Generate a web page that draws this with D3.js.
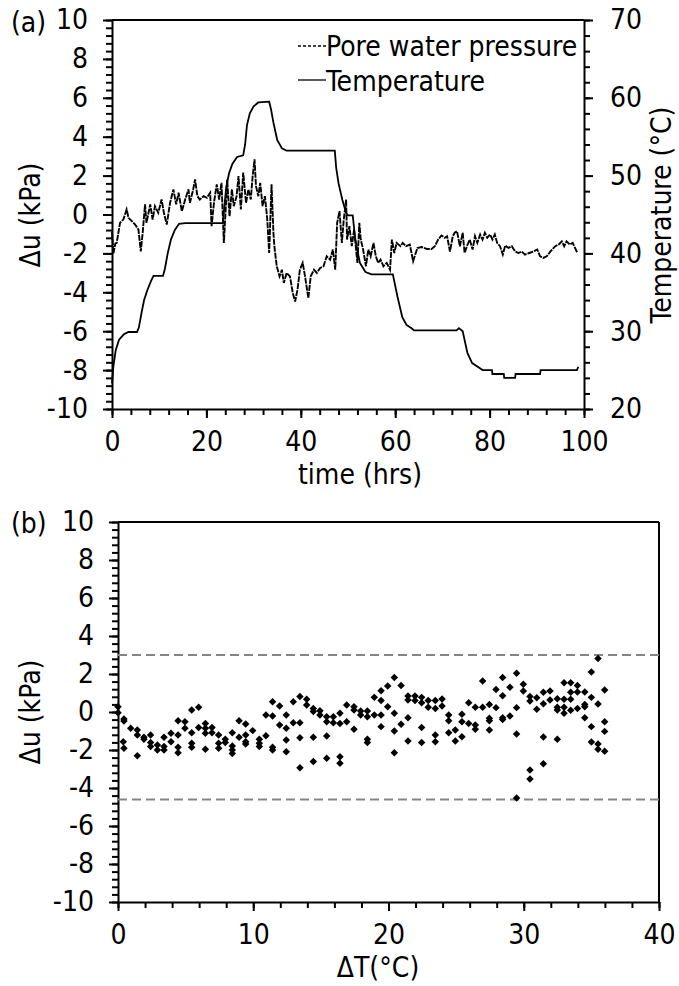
<!DOCTYPE html>
<html>
<head>
<meta charset="utf-8">
<script src="https://cdn.jsdelivr.net/npm/d3@7/dist/d3.min.js"></script>
<style>
  body { margin: 0; background: #fff; }
  svg { font-family: "DejaVu Sans Condensed", "DejaVu Sans", sans-serif; font-stretch: condensed; }
  .axis text { font-size: 28px; fill: #000; font-family: "DejaVu Sans Condensed", "DejaVu Sans", sans-serif; }
  .axis line, .axis path { stroke: #000; stroke-width: 2; }
</style>
</head>
<body>
<svg id="chart" width="679" height="986"></svg>
<script>
// time (hrs), pore pressure change (kPa)
var porePressure = [
  [0,-0.9],[0.3,-2.0],[0.7,-1.5],[1.0,-1.46],[1.7,-0.43],[2.4,-0.26],[3.1,0.26],[3.5,-0.17],
  [4.2,-0.34],[4.9,-0.52],[5.6,-0.77],[6.1,-1.9],[6.5,-0.94],[7.0,0.52],[7.3,-0.43],[8.1,0.52],
  [8.6,-0.26],[9.1,0.43],[9.8,0.09],[10.5,0.77],[11.0,0.09],[11.6,-0.52],[12.3,0.6],[13.0,1.29],
  [13.6,0.52],[14.1,1.12],[14.8,0.17],[15.5,0.77],[16.2,1.29],[16.5,0.6],[17.2,1.29],[17.6,1.8],
  [18.1,0.94],[18.6,0.77],[19.4,0.94],[20.1,0.86],[20.8,1.12],[21.1,-0.6],[21.6,0.6],[22.2,1.55],
  [22.7,0.77],[23.2,1.63],[23.7,-1.46],[24.2,0.77],[24.4,1.8],[24.9,-0.09],[25.4,1.29],[25.8,0.43],
  [26.4,0.94],[26.8,1.98],[27.3,0.26],[27.8,2.15],[28.4,0.6],[28.9,1.29],[29.4,0.77],[29.8,1.98],
  [30.2,2.84],[30.5,1.46],[31.0,0.94],[31.4,1.63],[31.9,0.43],[32.4,0.94],[32.9,-0.26],[33.3,-1.98],
  [33.8,1.55],[34.2,-0.94],[34.4,-1.63],[34.9,-2.66],[35.5,-3.18],[36.0,-2.84],[36.4,-3.52],[37.0,-3.0],
  [37.7,-3.18],[38.3,-4.04],[38.8,-4.47],[39.3,-3.87],[39.8,-2.84],[40.4,-2.49],[40.9,-3.18],[41.6,-4.3],
  [42.1,-3.18],[42.8,-2.84],[43.4,-3.0],[44.1,-2.75],[44.8,-2.66],[45.5,-2.15],[46.2,-2.32],[46.8,-1.8],
  [47.3,-2.84],[47.7,-0.43],[48.2,0.17],[48.7,-1.46],[49.1,-0.26],[49.6,0.77],[49.8,-1.29],[50.3,-0.6],
  [50.8,-1.63],[51.3,-0.77],[51.7,-1.8],[52.0,-2.49],[52.4,-0.43],[52.7,-1.29],[53.2,-1.8],[53.8,-2.66],
  [54.3,-1.8],[54.8,-2.15],[55.4,-1.46],[55.9,-2.15],[56.4,-2.49],[56.9,-2.32],[57.5,-2.66],[58.2,-2.49],
  [58.9,-2.84],[59.3,-1.29],[59.8,-1.98],[60.3,-1.46],[61.1,-1.63],[61.6,-1.46],[62.3,-1.63],[63.1,-1.55],
  [63.8,-2.4],[64.7,-1.72],[65.6,-1.67],[66.7,-1.77],[67.7,-1.77],[68.4,-1.63],[69.1,-1.29],[69.8,-1.08],
  [70.5,-1.2],[71.0,-1.12],[71.6,-1.9],[72.2,-1.12],[72.6,-0.94],[73.1,-0.86],[73.7,-1.63],[74.3,-0.94],
  [74.7,-1.98],[75.2,-1.63],[75.8,-1.29],[76.4,-1.8],[76.9,-1.12],[77.4,-1.46],[78.0,-1.03],[78.5,-1.29],
  [79.0,-0.94],[79.5,-1.2],[80.1,-1.03],[80.6,-1.29],[81.1,-1.03],[81.6,-1.46],[82.2,-1.63],[82.8,-2.06],
  [83.3,-1.6],[84.0,-1.72],[84.7,-1.63],[85.4,-1.9],[86.1,-1.98],[86.8,-1.9],[87.5,-2.06],[88.4,-1.98],
  [89.3,-1.9],[90.1,-1.8],[90.7,-2.15],[91.4,-2.23],[92.1,-2.15],[92.9,-1.9],[93.9,-1.63],[94.6,-1.55],
  [95.3,-1.38],[95.8,-1.63],[96.3,-1.38],[97.0,-1.55],[97.6,-1.46],[98.1,-1.72],[98.6,-1.98]
];

// time (hrs), temperature (°C)
var temperature = [
  [0,23.3],[0.3,25.5],[0.8,27.6],[1.5,28.9],[2.5,29.6],[3.5,29.9],[5.3,29.9],[5.7,30.5],[6.3,32.5],
  [6.8,34.0],[7.5,35.3],[8.3,36.5],[8.8,37.1],[10.8,37.1],[11.2,38.0],[11.8,40.0],[12.5,41.8],
  [13.3,43.0],[14.2,43.8],[15.5,43.9],[23.5,43.9],[23.8,46.0],[24.2,48.5],[24.8,50.3],[25.5,51.5],
  [26.5,52.4],[27.8,52.6],[28.2,54.0],[28.6,56.5],[29.2,58.0],[30.0,58.9],[31.0,59.4],[33.3,59.5],
  [33.7,58.5],[34.2,56.8],[35.0,54.6],[36.0,53.5],[37.0,53.2],[47.2,53.2],[47.5,51.0],[48.0,49.0],
  [48.8,46.9],[49.6,45.2],[50.0,44.9],[51.0,44.9],[51.5,42.0],[52.5,38.8],[53.7,37.6],[55.0,37.3],
  [59.5,37.3],[60.5,34.4],[61.5,31.8],[62.4,30.8],[63.4,30.4],[64.0,30.1],[73.0,30.1],[73.5,30.4],
  [74.3,30.0],[75.3,27.2],[76.3,25.9],[77.8,25.3],[78.5,25.0],[80.5,25.0],[80.6,24.5],[83.0,24.5],
  [83.1,24.0],[85.4,24.0],[85.5,24.5],[90.7,24.5],[90.8,25.0],[98.5,25.0],[98.8,25.4]
];

// ΔT (°C), Δu (kPa)
var scatterPoints = [
  [0,0.28],[0,-0.04],[0.44,-0.37],[0.44,-0.47],[0.39,-1.56],[0.44,-1.91],[0.94,-0.86],[1.43,-0.95],
  [1.43,-1.21],[1.43,-2.3],[1.92,-1.33],[1.92,-1.44],[2.41,-1.21],[2.41,-1.61],[2.41,-1.82],[2.91,-1.74],
  [2.91,-2.0],[3.4,-1.33],[3.4,-1.82],[3.4,-2.0],[3.92,-1.12],[3.92,-1.56],[4.44,-0.46],[4.44,-1.21],
  [4.44,-1.86],[4.44,-2.14],[4.95,-0.51],[4.95,-0.86],[5.45,0.11],[5.45,-1.09],[5.45,-1.65],[5.45,-1.86],
  [5.96,0.25],[5.96,-0.81],[6.46,-0.6],[6.46,-0.86],[6.46,-1.12],[6.46,-1.96],[6.95,-0.81],[6.95,-1.09],
  [7.44,-1.21],[7.44,-1.65],[7.44,-1.91],[7.93,-1.44],[7.93,-1.61],[8.45,-1.09],[8.45,-1.79],[8.45,-2.0],
  [8.45,-2.18],[8.95,-0.46],[8.95,-1.33],[9.44,-0.63],[9.44,-1.21],[9.44,-1.56],[9.44,-1.68],[9.96,-0.98],
  [10.45,-1.44],[10.45,-1.65],[10.45,-1.82],[10.94,-1.25],[10.94,-0.16],[11.43,-0.21],[11.43,-1.86],
  [11.43,-2.0],[11.43,0.54],[11.95,0.32],[11.95,-0.68],[12.44,-0.16],[12.44,-0.86],[12.44,-1.47],
  [12.44,-2.09],[12.96,0.54],[12.96,-0.56],[13.45,0.81],[13.45,-0.56],[13.45,-1.35],[13.45,-2.93],
  [13.95,0.67],[13.95,0.37],[14.44,0.19],[14.44,0.02],[14.44,-1.33],[14.44,-2.61],[14.93,0.07],
  [14.93,-0.16],[15.43,-0.25],[15.43,-0.51],[15.43,-1.26],[15.43,-2.44],[15.92,-0.25],[15.92,-0.56],
  [16.41,-0.07],[16.41,-0.6],[16.41,-2.35],[16.41,-2.7],[16.91,0.37],[16.91,-0.51],[17.45,0.28],
  [17.45,0.11],[17.45,-0.91],[17.94,0.05],[17.94,-0.16],[18.44,0.05],[18.44,-0.25],[18.44,-1.44],
  [18.44,-1.61],[18.95,0.77],[18.95,-0.16],[19.45,1.12],[19.45,0.6],[19.45,-0.16],[19.45,-0.77],
  [19.94,1.37],[19.94,0.28],[20.43,1.81],[20.43,-0.07],[20.43,-1.0],[20.43,-2.14],[20.93,1.39],
  [20.93,-0.65],[21.44,0.84],[21.44,0.63],[21.44,-0.3],[21.44,-1.53],[21.96,0.84],[21.96,0.6],
  [22.45,0.77],[22.45,0.49],[22.45,-0.82],[22.45,-1.61],[22.94,0.6],[22.94,0.25],[23.46,0.6],
  [23.46,0.19],[23.46,-1.21],[23.46,-1.56],[23.96,0.68],[23.96,0.32],[24.45,-0.16],[24.45,-0.46],
  [24.45,-1.09],[24.94,-0.95],[24.94,-1.53],[25.43,-0.12],[25.43,-0.51],[25.43,-1.3],[25.93,0.49],
  [25.93,-0.6],[26.42,0.25],[26.42,-0.68],[26.42,-0.91],[26.96,1.63],[26.96,0.25],[27.46,0.4],
  [27.46,-0.33],[27.46,-0.46],[27.46,-0.95],[27.95,1.19],[27.95,0.23],[28.44,1.81],[28.44,0.86],
  [28.44,-0.3],[28.44,-0.39],[28.98,1.3],[28.98,-0.21],[29.47,2.04],[29.47,0.23],[29.47,-1.16],
  [29.47,-4.53],[29.97,1.46],[29.97,1.11],[30.46,0.81],[30.46,0.58],[30.46,-3.05],[30.46,-3.53],
  [30.96,0.75],[30.96,0.14],[31.45,1.04],[31.45,0.44],[31.45,-1.32],[31.45,-2.72],[31.94,1.11],
  [31.94,0.63],[32.48,0.7],[32.48,0.25],[32.48,0.11],[32.48,-1.44],[32.98,1.54],[32.98,0.67],
  [32.98,0.25],[32.98,-0.07],[33.47,1.54],[33.47,1.04],[33.47,0.67],[33.47,0.09],[33.97,1.39],
  [33.97,1.05],[33.97,0.18],[34.51,1.05],[34.51,0.4],[34.51,0.28],[34.51,-0.3],[35.0,2.11],
  [35.0,0.77],[35.0,-0.77],[35.0,-1.58],[35.49,2.81],[35.49,0.42],[35.49,-1.68],[35.49,-1.96],
  [35.98,1.16],[35.98,-0.51],[35.98,-1.02],[35.98,-2.07]
];

var limitLines = [3, -4.6];
var timeTicks = [0, 20, 40, 60, 80, 100];
var duTicks = [-10, -8, -6, -4, -2, 0, 2, 4, 6, 8, 10];
var tempTicks = [20, 30, 40, 50, 60, 70];
var dtTicks = [0, 10, 20, 30, 40];
var legendLabels = ["Pore water pressure", "Temperature"];

var fs = 28;
var plain = function(d) { return String(d); };   // hyphen minus like the original
var svg = d3.select("#chart");

// ---------- (a) time history ----------
var xA = d3.scaleLinear().domain([0, 100]).range([112, 584]);
var yA = d3.scaleLinear().domain([-10, 10]).range([409, 20]);
var yT = d3.scaleLinear().domain([20, 70]).range([409, 20]);

var gA = svg.append("g");

gA.append("line").attr("x1", 112).attr("x2", 584).attr("y1", 20).attr("y2", 20)
  .attr("stroke", "#000").attr("stroke-width", 2);

// minor ticks
gA.append("g").attr("class", "axis").attr("transform", "translate(112,0)")
  .call(d3.axisLeft(yA).tickValues(d3.range(-10, 10.01, 0.4)).tickSize(6).tickFormat(""))
  .select(".domain").remove();
gA.append("g").attr("class", "axis").attr("transform", "translate(0,409)")
  .call(d3.axisBottom(xA).tickValues(d3.range(0, 100.01, 4)).tickSize(6).tickFormat(""))
  .select(".domain").remove();
gA.append("g").attr("class", "axis").attr("transform", "translate(584,0)")
  .call(d3.axisRight(yT).tickValues(d3.range(20, 70.01, 2)).tickSize(6).tickFormat(""))
  .select(".domain").remove();

// major ticks + labels
gA.append("g").attr("class", "axis").attr("transform", "translate(112,0)")
  .call(d3.axisLeft(yA).tickValues(duTicks).tickFormat(plain).tickSize(9).tickSizeOuter(0).tickPadding(15));
gA.append("g").attr("class", "axis").attr("transform", "translate(0,409)")
  .call(d3.axisBottom(xA).tickValues(timeTicks).tickFormat(plain).tickSize(9).tickSizeOuter(0).tickPadding(13));
gA.append("g").attr("class", "axis").attr("transform", "translate(584,0)")
  .call(d3.axisRight(yT).tickValues(tempTicks).tickFormat(plain).tickSize(9).tickSizeOuter(0).tickPadding(17));

gA.append("path").datum(temperature)
  .attr("fill", "none").attr("stroke", "#000").attr("stroke-width", 1.8)
  .attr("d", d3.line().x(function(d) { return xA(d[0]); }).y(function(d) { return yT(d[1]); }));

gA.append("path").datum(porePressure)
  .attr("fill", "none").attr("stroke", "#000").attr("stroke-width", 1.9)
  .attr("stroke-dasharray", "6,1")
  .attr("d", d3.line().x(function(d) { return xA(d[0]); }).y(function(d) { return yA(d[1]); }));

// legend
gA.append("line").attr("x1", 298).attr("x2", 326).attr("y1", 46).attr("y2", 46)
  .attr("stroke", "#000").attr("stroke-width", 1.3).attr("stroke-dasharray", "3,2");
gA.append("line").attr("x1", 298).attr("x2", 326).attr("y1", 80).attr("y2", 80)
  .attr("stroke", "#000").attr("stroke-width", 1.3);
gA.selectAll(".leg").data(legendLabels).enter().append("text")
  .attr("x", 326).attr("y", function(d, i) { return 56 + i * 35; })
  .attr("font-size", fs).text(function(d) { return d; });

gA.append("text").attr("x", 11).attr("y", 32).attr("font-size", fs).text("(a)");
gA.append("text").attr("transform", "translate(40,215) rotate(-90)")
  .attr("text-anchor", "middle").attr("font-size", fs).text("Δu (kPa)");
gA.append("text").attr("transform", "translate(671,215) rotate(-90)")
  .attr("text-anchor", "middle").attr("font-size", fs).text("Temperature (°C)");
gA.append("text").attr("x", 360).attr("y", 484).attr("text-anchor", "middle")
  .attr("font-size", fs).text("time (hrs)");

// ---------- (b) scatter ----------
var xB = d3.scaleLinear().domain([0, 40]).range([118, 659]);
var yB = d3.scaleLinear().domain([-10, 10]).range([902, 522]);

var gB = svg.append("g");

gB.append("line").attr("x1", 118).attr("x2", 659).attr("y1", 522).attr("y2", 522)
  .attr("stroke", "#000").attr("stroke-width", 2);
gB.append("line").attr("x1", 659).attr("x2", 659).attr("y1", 522).attr("y2", 902)
  .attr("stroke", "#000").attr("stroke-width", 2);

gB.append("g").attr("class", "axis").attr("transform", "translate(118,0)")
  .call(d3.axisLeft(yB).tickValues(d3.range(-10, 10.01, 0.4)).tickSize(6).tickFormat(""))
  .select(".domain").remove();
gB.append("g").attr("class", "axis").attr("transform", "translate(0,902)")
  .call(d3.axisBottom(xB).tickValues(d3.range(0, 40.01, 2)).tickSize(6).tickFormat(""))
  .select(".domain").remove();
gB.append("g").attr("class", "axis").attr("transform", "translate(118,0)")
  .call(d3.axisLeft(yB).tickValues(duTicks).tickFormat(plain).tickSize(9).tickSizeOuter(0).tickPadding(15));
gB.append("g").attr("class", "axis").attr("transform", "translate(0,902)")
  .call(d3.axisBottom(xB).tickValues(dtTicks).tickFormat(plain).tickSize(9).tickSizeOuter(0).tickPadding(13));

gB.selectAll(".limit").data(limitLines).enter().append("line")
  .attr("x1", 118).attr("x2", 659)
  .attr("y1", function(d) { return yB(d); }).attr("y2", function(d) { return yB(d); })
  .attr("stroke", "#858585").attr("stroke-width", 2).attr("stroke-dasharray", "9,5");

gB.selectAll(".pt").data(scatterPoints).enter().append("path")
  .attr("d", d3.symbol(d3.symbolSquare, 28))
  .attr("transform", function(d) { return "translate(" + xB(d[0]) + "," + yB(d[1]) + ") rotate(45)"; })
  .attr("fill", "#000");

gB.append("text").attr("x", 11).attr("y", 533).attr("font-size", fs).text("(b)");
gB.append("text").attr("transform", "translate(40,712) rotate(-90)")
  .attr("text-anchor", "middle").attr("font-size", fs).text("Δu (kPa)");
gB.append("text").attr("x", 378).attr("y", 977).attr("text-anchor", "middle")
  .attr("font-size", fs).text("ΔT(°C)");
</script>
</body>
</html>
